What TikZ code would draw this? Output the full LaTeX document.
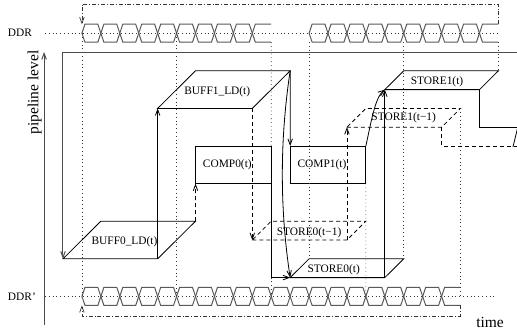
\documentclass[tikz,border=0pt]{standalone}
\usepackage{fontspec}
\setmainfont{Liberation Serif}
\usetikzlibrary{arrows.meta}

\begin{document}
\begin{tikzpicture}[x=18.93pt, y=-18.8pt,
  stage/.style={line width=0.8pt, black},
  later/.style={line width=0.8pt, black, dash pattern=on 4pt off 3pt},
  grid/.style={line width=0.7pt, black!80, dash pattern=on 0.8pt off 3pt},
  ctrl/.style={line width=0.7pt, black!80, dash pattern=on 4pt off 2pt on 0.8pt off 2pt},
  bus/.style={line width=1pt, black!65},
  axis/.style={line width=1pt, black!70},
  box/.style={draw, line width=0.8pt, minimum width=75.72pt, minimum height=37.6pt, inner sep=0pt, outer sep=0pt},
  lbl/.style={font=\fontsize{11.4}{13}\selectfont, inner sep=0pt},
  big/.style={font=\fontsize{15.5}{17}\selectfont, inner sep=0pt},
  >={Straight Barb[length=6pt,width=4.5pt]}]

\useasboundingbox (-3.328,-2.766) rectangle (23.983,14.947);

% DDR rows
\foreach \k in {1,...,9}
  \draw[bus] (\k,-1) -- ++(0.16,-0.48) -- ++(0.68,0) -- ++(0.16,0.48) -- ++(-0.16,0.48) -- ++(-0.68,0) -- cycle;
\draw[bus] (11,-1.48) -- (10.16,-1.48) -- (10,-1) -- (10.16,-0.52) -- (11,-0.52);
\foreach \k in {13,...,21}
  \draw[bus] (\k,-1) -- ++(0.16,-0.48) -- ++(0.68,0) -- ++(0.16,0.48) -- ++(-0.16,0.48) -- ++(-0.68,0) -- cycle;
\draw[bus] (23,-1.48) -- (22.16,-1.48) -- (22,-1) -- (22.16,-0.52) -- (23,-0.52);
\foreach \k in {1,...,19}
  \draw[bus] (\k,13) -- ++(0.16,-0.48) -- ++(0.68,0) -- ++(0.16,0.48) -- ++(-0.16,0.48) -- ++(-0.68,0) -- cycle;
\draw[bus] (21,12.52) -- (20.16,12.52) -- (20,13) -- (20.16,13.48) -- (21,13.48);

\coordinate (ddrin) at (1,-1.48);
\coordinate (ddrout) at (23,-1.48);
\coordinate (ddrbin) at (1,13.48);
\coordinate (ddrbout) at (21,13.48);

\node[lbl] (ddr) at (-2.27,-1) {DDR};
\node[lbl] (ddrb) at (-2.17,13) {DDR'};

% stages
\draw[stage] (0,11) coordinate (b0bl) -- (5,11) coordinate (b0br) -- (7,9) coordinate (b0tr) -- (2,9) -- cycle;
\draw[stage] (5,3) coordinate (b1bl) -- (10,3) coordinate (b1br) -- (12,1) coordinate (b1tr) -- (7,1) -- cycle;
\draw[stage] (12,12) coordinate (s0bl) -- (17,12) coordinate (s0br) -- (18,11) coordinate (s0tr) -- (13,11) coordinate (s0tl) -- cycle;
\draw[stage] (17,2) coordinate (s1bl) -- (22,2) coordinate (s1br) -- (23,1) coordinate (s1tr) -- (18,1) -- cycle;
\draw[later] (10,10) coordinate (s0pbl) -- (15,10) coordinate (s0pbr) -- (16,9) -- (11,9) -- cycle;
\draw[later] (15,4) coordinate (s1pbl) -- (20,4) coordinate (s1pbr) -- (21,3) coordinate (s1ptr) -- (16,3) -- cycle;
\node[box] (comp0) at (9,6) {};
\node[box] (comp1) at (14,6) {};

\node[lbl] at (3.25,10.1) {BUFF0\_LD(t)};
\node[lbl] at (8.15,2.1) {BUFF1\_LD(t)};
\node[lbl] at ([xshift=-6pt]comp0.center) {COMP0(t)};
\node[lbl] at ([xshift=-6pt]comp1.center) {COMP1(t)};
\node[lbl] at (13,9.6) {STORE0(t−1)};
\node[lbl] at (14.3,11.6) {STORE0(t)};
\node[lbl] at (18,3.5) {STORE1(t−1)};
\node[lbl] at (19.76,1.6) {STORE1(t)};

% time grid
\draw[grid] (-0.95,-1) -- (23,-1);
\draw[grid] (-0.95,13) -- (22.9,13);
\foreach \x in {1,6}
  \draw[grid] (\x,-1) -- (\x,13);
\draw[grid] (11,-0.52) -- (comp0.north east);
\draw[grid] (11,12) -- (11,13);
\draw[grid] (13,-0.52) -- (s0tl);
\draw[grid] (18,-0.52) -- (s0tr);
\draw[grid] (comp1.south east) -- (16,13);
\draw[grid] (s1ptr) -- (21,13);
\draw[grid] (23,-0.52) -- (s1tr);

% control
\draw[ctrl, ->] (ddrout) -- (23,-2.55) -- (1,-2.55) -- (ddrin);
\draw[ctrl, ->] (ddrbout) -- (21,14.04) -- (1,14.04) -- (ddrbin);

% flow
\coordinate (loopin) at (24,0);
\draw[axis, ->] (loopin) -| (b0bl);
\draw[stage, ->] (b0br) -- (b1bl);
\draw[later, ->] (b0tr) -- (comp0.south west);
\draw[later, ->] (b1br) -- (s0pbl);
\draw[stage, ->] (b1tr) -- (comp1.north west);
\draw[stage, ->] (b1tr) .. controls (11.45,4.7) and (11.45,8.3) .. (s0bl);
\draw[stage, ->] (comp0.south east) |- (s0bl);
\draw[stage, ->] (comp1.north east) .. controls (16.3,3.6) and (16.5,2.4) .. (s1bl);
\draw[stage, ->] (s0br) -- (s1bl);
\draw[later, ->] (s0pbr) -- (s1pbl);
\coordinate (s1out) at (24,4);
\coordinate (s1pout) at (24,5);
\draw[stage] (s1br) |- (s1out);
\draw[later] (s1pbr) |- (s1pout);
\draw[stage] (24,4.1) -- (23.77,5.05);

% axes
\coordinate (pbase) at (-1,14.5);
\draw[axis, ->] (pbase) -- (-1,0);
\node[big, rotate=90] (plevel) at (-1.5,2.15) {pipeline level};
\node[big] (time) at (22.56,14.36) {time};
\end{tikzpicture}
\end{document}
